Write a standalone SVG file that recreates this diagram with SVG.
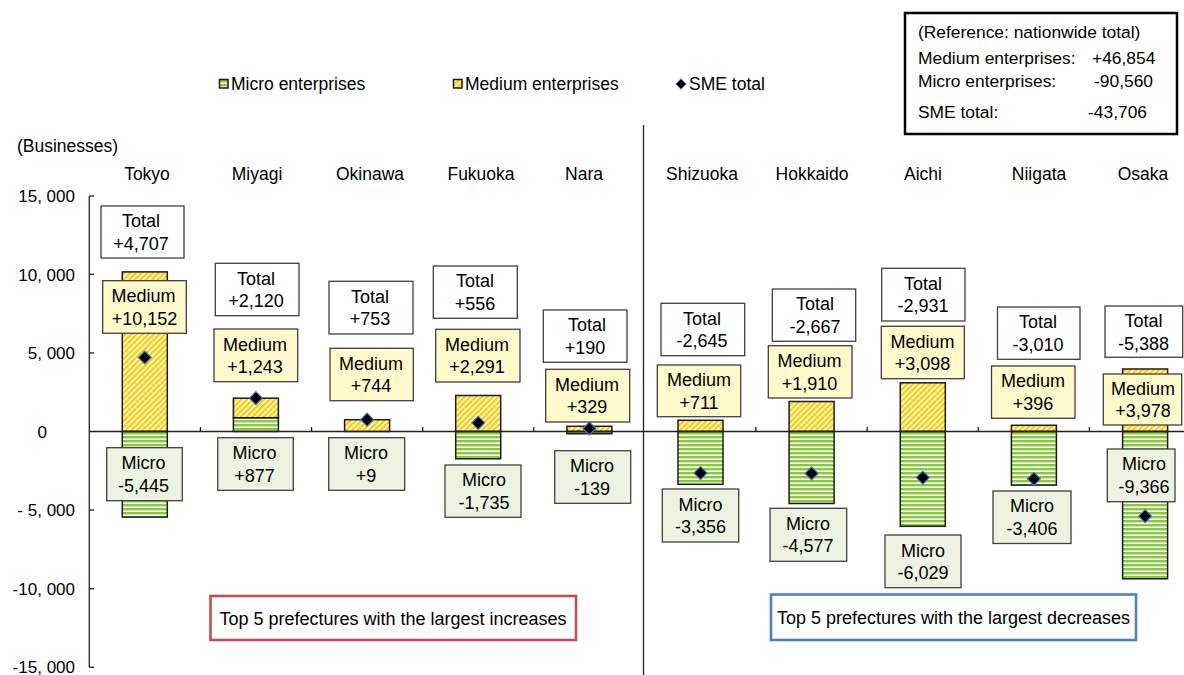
<svg xmlns="http://www.w3.org/2000/svg" width="1184" height="675" viewBox="0 0 1184 675">
<defs>
<pattern id="pY" width="4" height="4" patternUnits="userSpaceOnUse" patternTransform="rotate(45)">
<rect width="4" height="4" fill="#ffffff"/><rect width="2.4" height="4" fill="#FFCC00"/>
</pattern>
<pattern id="pG" width="4" height="4" patternUnits="userSpaceOnUse">
<rect width="4" height="4" fill="#ffffff"/><rect width="4" height="2.4" fill="#8DC63F"/>
</pattern>
<path id="dia" d="M0,-6.5 L6.5,0 L0,6.5 L-6.5,0 Z"/>
</defs>
<style>
text{font-family:"Liberation Sans",Arial,sans-serif;fill:#000}
.t{font-size:18px;text-anchor:middle}
.lg{font-size:17.5px}
.ax{font-size:17px;text-anchor:end}
.cat{font-size:17.5px;text-anchor:middle}
.rb{font-size:17.4px}
.bT{fill:#ffffff;stroke:#404040;stroke-width:1.3}
.bM{fill:#FFF9CC;stroke:#404040;stroke-width:1.3}
.bS{fill:#EEF3E1;stroke:#404040;stroke-width:1.3}
.med{fill:url(#pY);stroke:#1a1a1a;stroke-width:1.5}
.mic{fill:url(#pG);stroke:#1a1a1a;stroke-width:1.5}
.dm{fill:#000;stroke:#4472C4;stroke-width:1.2}
.ln{stroke:#222;stroke-width:1.3;fill:none}
</style>
<rect width="1184" height="675" fill="#ffffff"/>

<!-- legend -->
<g id="legend">
<rect x="219.5" y="79.5" width="8.5" height="8.5" class="mic"/>
<text x="231" y="90" class="lg">Micro enterprises</text>
<rect x="453.5" y="79.5" width="8.5" height="8.5" class="med"/>
<text x="465" y="90" class="lg">Medium enterprises</text>
<use href="#dia" transform="translate(681,84) scale(0.8)" class="dm"/>
<text x="689" y="90" class="lg">SME total</text>
</g>

<!-- reference box -->
<g id="refbox">
<rect x="905" y="13" width="272" height="121" fill="#fff" stroke="#000" stroke-width="2.5"/>
<text x="918" y="38" class="rb">(Reference: nationwide total)</text>
<text x="918" y="64" class="rb">Medium enterprises:</text>
<text x="1092" y="64" class="rb">+46,854</text>
<text x="918" y="87" class="rb">Micro enterprises:</text>
<text x="1094" y="87" class="rb">-90,560</text>
<text x="918" y="118" class="rb">SME total:</text>
<text x="1088" y="118" class="rb">-43,706</text>
</g>

<!-- axis -->
<g id="axis">
<text x="17" y="152" font-size="17.5">(Businesses)</text>
<line x1="89.3" y1="196" x2="89.3" y2="667.5" class="ln"/>
<g class="ln">
<line x1="89.3" y1="196" x2="94" y2="196"/>
<line x1="89.3" y1="274.3" x2="94" y2="274.3"/>
<line x1="89.3" y1="352.9" x2="94" y2="352.9"/>
<line x1="89.3" y1="510.1" x2="94" y2="510.1"/>
<line x1="89.3" y1="588.7" x2="94" y2="588.7"/>
<line x1="89.3" y1="667.3" x2="94" y2="667.3"/>
</g>
<text x="75" y="202" class="ax">15, 000</text>
<text x="75" y="280.5" class="ax">10, 000</text>
<text x="75" y="359" class="ax">5, 000</text>
<text x="47" y="437.5" class="ax">0</text>
<text x="75" y="516" class="ax">- 5, 000</text>
<text x="75" y="595" class="ax">-10, 000</text>
<text x="75" y="673" class="ax">-15, 000</text>
<line x1="643.5" y1="125" x2="643.5" y2="675" class="ln"/>
</g>

<!-- categories -->
<g id="categories">
<text x="147" y="180" class="cat">Tokyo</text>
<text x="257" y="180" class="cat">Miyagi</text>
<text x="370" y="180" class="cat">Okinawa</text>
<text x="481" y="180" class="cat">Fukuoka</text>
<text x="584" y="180" class="cat">Nara</text>
<text x="702" y="180" class="cat">Shizuoka</text>
<text x="812" y="180" class="cat">Hokkaido</text>
<text x="923" y="180" class="cat">Aichi</text>
<text x="1039" y="180" class="cat">Niigata</text>
<text x="1143" y="180" class="cat">Osaka</text>
</g>

<!-- bars -->
<g id="bars">
<rect x="122.3" y="271.9" width="45" height="159.6" class="med"/>
<rect x="122.3" y="431.5" width="45" height="85.6" class="mic"/>
<rect x="233.4" y="417.7" width="45" height="13.8" class="mic"/>
<rect x="233.4" y="398.2" width="45" height="19.5" class="med"/>
<rect x="344.6" y="419.7" width="45" height="11.8" class="med"/>
<rect x="455.7" y="395.5" width="45" height="36" class="med"/>
<rect x="455.7" y="431.5" width="45" height="27.3" class="mic"/>
<rect x="566.9" y="426.3" width="45" height="5.2" class="med"/>
<rect x="566.9" y="431.5" width="45" height="2.2" class="mic"/>
<rect x="678" y="420.3" width="45" height="11.2" class="med"/>
<rect x="678" y="431.5" width="45" height="52.8" class="mic"/>
<rect x="789.1" y="401.5" width="45" height="30" class="med"/>
<rect x="789.1" y="431.5" width="45" height="72" class="mic"/>
<rect x="900.3" y="382.8" width="45" height="48.7" class="med"/>
<rect x="900.3" y="431.5" width="45" height="94.8" class="mic"/>
<rect x="1011.4" y="425.3" width="45" height="6.2" class="med"/>
<rect x="1011.4" y="431.5" width="45" height="53.6" class="mic"/>
<rect x="1122.6" y="369" width="45" height="62.5" class="med"/>
<rect x="1122.6" y="431.5" width="45" height="147.3" class="mic"/>
</g>

<!-- zero line -->
<g id="zero" class="ln">
<line x1="89.3" y1="431.5" x2="1184" y2="431.5"/>
<line x1="200.4" y1="427" x2="200.4" y2="431.5"/>
<line x1="311.6" y1="427" x2="311.6" y2="431.5"/>
<line x1="422.7" y1="427" x2="422.7" y2="431.5"/>
<line x1="533.8" y1="427" x2="533.8" y2="431.5"/>
<line x1="755.9" y1="427" x2="755.9" y2="431.5"/>
<line x1="867.1" y1="427" x2="867.1" y2="431.5"/>
<line x1="978.2" y1="427" x2="978.2" y2="431.5"/>
<line x1="1089.4" y1="427" x2="1089.4" y2="431.5"/>
</g>

<!-- totals (diamonds) -->
<g id="diamonds" class="dm">
<use href="#dia" x="144.8" y="357.5"/>
<use href="#dia" x="255.9" y="398.2"/>
<use href="#dia" x="367.1" y="419.7"/>
<use href="#dia" x="478.2" y="422.8"/>
<use href="#dia" x="589.4" y="428.5"/>
<use href="#dia" x="700.5" y="473.1"/>
<use href="#dia" x="811.6" y="473.4"/>
<use href="#dia" x="922.8" y="477.6"/>
<use href="#dia" x="1033.9" y="478.8"/>
<use href="#dia" x="1145.1" y="516.2"/>
</g>

<!-- label boxes -->
<g id="tokyo">
<rect x="101" y="206" width="83" height="52" class="bT"/><text x="141" y="227" class="t">Total</text><text x="141" y="249.5" class="t">+4,707</text>
<rect x="102.7" y="280.7" width="83.6" height="52.6" class="bM"/><text x="143.5" y="302" class="t">Medium</text><text x="144.5" y="324.5" class="t">+10,152</text>
<rect x="106.7" y="447.7" width="75.6" height="53" class="bS"/><text x="143.5" y="469" class="t">Micro</text><text x="143.5" y="491.5" class="t">-5,445</text>
</g>
<g id="miyagi">
<rect x="215.3" y="263.3" width="83.7" height="52.4" class="bT"/><text x="256" y="284.5" class="t">Total</text><text x="256" y="307" class="t">+2,120</text>
<rect x="214" y="329" width="83.7" height="52.7" class="bM"/><text x="255" y="350.5" class="t">Medium</text><text x="255" y="373" class="t">+1,243</text>
<rect x="217.7" y="437.7" width="75.6" height="52.6" class="bS"/><text x="254.5" y="459" class="t">Micro</text><text x="254.5" y="481.5" class="t">+877</text>
</g>
<g id="okinawa">
<rect x="329" y="281.3" width="84" height="52.7" class="bT"/><text x="370" y="302.5" class="t">Total</text><text x="370" y="325" class="t">+753</text>
<rect x="330" y="348.3" width="83.3" height="52.4" class="bM"/><text x="371" y="369.5" class="t">Medium</text><text x="371" y="392" class="t">+744</text>
<rect x="328.7" y="437.7" width="76" height="52.6" class="bS"/><text x="366" y="459" class="t">Micro</text><text x="366" y="481.5" class="t">+9</text>
</g>
<g id="fukuoka">
<rect x="433.3" y="266" width="84" height="52.3" class="bT"/><text x="475" y="287" class="t">Total</text><text x="475" y="309.5" class="t">+556</text>
<rect x="435.7" y="329.3" width="84.3" height="52.7" class="bM"/><text x="477" y="350.5" class="t">Medium</text><text x="477" y="373" class="t">+2,291</text>
<rect x="445" y="465" width="76" height="52.3" class="bS"/><text x="484" y="486" class="t">Micro</text><text x="484" y="508.5" class="t">-1,735</text>
</g>
<g id="nara">
<rect x="543.3" y="310" width="83.7" height="52.3" class="bT"/><text x="587" y="331" class="t">Total</text><text x="585" y="353.5" class="t">+190</text>
<rect x="545.7" y="369.3" width="84" height="52.7" class="bM"/><text x="587" y="390.5" class="t">Medium</text><text x="587" y="413" class="t">+329</text>
<rect x="554.7" y="450.7" width="76" height="52.6" class="bS"/><text x="592" y="472" class="t">Micro</text><text x="592" y="494.5" class="t">-139</text>
</g>
<g id="shizuoka">
<rect x="661" y="303.3" width="83.7" height="52.4" class="bT"/><text x="702" y="324.5" class="t">Total</text><text x="702" y="347" class="t">-2,645</text>
<rect x="657.3" y="365" width="83.4" height="51.7" class="bM"/><text x="699" y="386" class="t">Medium</text><text x="699" y="408.5" class="t">+711</text>
<rect x="662.3" y="489" width="76.4" height="53" class="bS"/><text x="700.5" y="510.5" class="t">Micro</text><text x="700.5" y="533" class="t">-3,356</text>
</g>
<g id="hokkaido">
<rect x="772.3" y="289" width="83.4" height="52.3" class="bT"/><text x="815" y="310" class="t">Total</text><text x="815" y="332.5" class="t">-2,667</text>
<rect x="768.3" y="345.7" width="83.7" height="52.3" class="bM"/><text x="809.5" y="367" class="t">Medium</text><text x="809.5" y="389.5" class="t">+1,910</text>
<rect x="770" y="508.3" width="76.7" height="53" class="bS"/><text x="808" y="529.5" class="t">Micro</text><text x="808" y="552" class="t">-4,577</text>
</g>
<g id="aichi">
<rect x="881.7" y="268.3" width="83.3" height="52.7" class="bT"/><text x="923" y="289.5" class="t">Total</text><text x="923" y="312" class="t">-2,931</text>
<rect x="881.3" y="326.3" width="83" height="52.4" class="bM"/><text x="922.5" y="347.5" class="t">Medium</text><text x="922.5" y="370" class="t">+3,098</text>
<rect x="885" y="535" width="76" height="52.7" class="bS"/><text x="923" y="556.5" class="t">Micro</text><text x="923" y="579" class="t">-6,029</text>
</g>
<g id="niigata">
<rect x="997.5" y="307" width="82.5" height="52.3" class="bT"/><text x="1038" y="328" class="t">Total</text><text x="1038" y="350.5" class="t">-3,010</text>
<rect x="991.5" y="366" width="83.5" height="52.3" class="bM"/><text x="1033" y="387" class="t">Medium</text><text x="1033" y="409.5" class="t">+396</text>
<rect x="993" y="491" width="78" height="52.5" class="bS"/><text x="1032" y="512" class="t">Micro</text><text x="1032" y="534.5" class="t">-3,406</text>
</g>
<g id="osaka">
<rect x="1105" y="306" width="77.7" height="51.3" class="bT"/><text x="1143.5" y="327" class="t">Total</text><text x="1143.5" y="349.5" class="t">-5,388</text>
<rect x="1103.3" y="374" width="78.4" height="51" class="bM"/><text x="1143" y="394.5" class="t">Medium</text><text x="1143" y="417" class="t">+3,978</text>
<rect x="1107.3" y="449" width="67.7" height="52.7" class="bS"/><text x="1144" y="470" class="t">Micro</text><text x="1144" y="492.5" class="t">-9,366</text>
</g>

<!-- group captions -->
<g id="increases">
<rect x="210.5" y="596" width="365.5" height="44" fill="#fff" stroke="#C0504D" stroke-width="2.6"/>
<text x="393" y="624.5" class="t" font-size="17.5">Top 5 prefectures with the largest increases</text>
</g>
<g id="decreases">
<rect x="771" y="594.5" width="365" height="45.5" fill="#fff" stroke="#4F81BD" stroke-width="2.6"/>
<text x="953.5" y="624" class="t" font-size="17.5">Top 5 prefectures with the largest decreases</text>
</g>
</svg>
